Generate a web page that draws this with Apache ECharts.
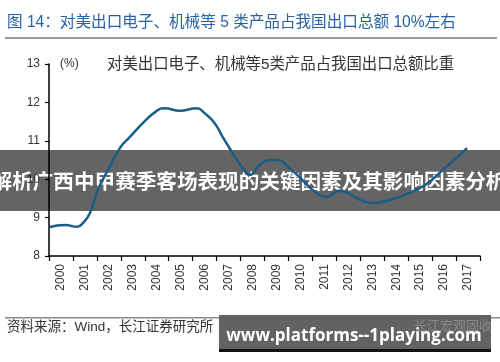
<!DOCTYPE html>
<html><head><meta charset="utf-8">
<script src="https://cdn.jsdelivr.net/npm/echarts@6/dist/echarts.min.js"></script>
<style>html,body{margin:0;padding:0;background:#fff}#c{width:500px;height:362px}</style>
</head><body><div id="c"></div>
<script>
const years = ['2000','2001','2002','2003','2004','2005','2006','2007','2008','2009','2010','2011','2012','2013','2014','2015','2016','2017'];
const yTicks = [8, 9, 10, 11, 12, 13];
const seriesName = '对美出口电子、机械等5类产品占我国出口总额比重';
const pointTimes = [2000.0,2000.67,2001.17,2001.42,2001.71,2002.04,2002.42,2002.96,2003.38,2003.92,2004.5,2004.83,2005.46,2006.17,2006.5,2006.92,2007.25,2007.67,2008.08,2008.38,2008.79,2009.21,2009.54,2010.04,2010.58,2011.17,2011.58,2012.12,2012.6,2013.04,2013.5,2014.0,2014.5,2015.04,2015.58,2016.08,2016.58,2017.04,2017.46];
const shareValues = [8.75,8.81,8.76,8.86,9.12,9.72,10.19,10.81,11.10,11.46,11.78,11.85,11.78,11.85,11.72,11.46,11.10,10.68,10.29,10.11,10.37,10.50,10.50,10.29,9.98,9.64,9.54,9.70,9.60,9.45,9.38,9.42,9.51,9.64,9.80,10.03,10.32,10.57,10.81];
const titleText = '图 14：对美出口电子、机械等 5 类产品占我国出口总额 10%左右';
const unitText = '(%)';
const sourceText = '资料来源：Wind，长江证券研究所';
const bannerText = '解析广西中甲赛季客场表现的关键因素及其影响因素分析';
const watermarkText = 'www.platforms--1playing.com';
const logoText = '长江宏观固收';

const chart = echarts.init(document.getElementById('c'), null, {renderer:'canvas'});
const FONT = '"Liberation Sans", "Noto Sans CJK SC", sans-serif';
chart.setOption({
  animation:false,
  backgroundColor:'#fff',
  grid:{left:49, right:20, top:64, bottom:106},
  xAxis:[{
    type:'category', data:years, boundaryGap:true,
    axisLine:{lineStyle:{color:'#000', width:1.5}},
    axisTick:{show:true, length:5, alignWithLabel:false, lineStyle:{color:'#000', width:1.2}},
    axisLabel:{rotate:90, margin:8, color:'#333', fontSize:12, fontFamily:FONT, interval:0}
  },{
    type:'value', min:2000, max:2018, show:false
  }],
  yAxis:{
    type:'value', min:yTicks[0], max:yTicks[yTicks.length-1], interval:1,
    axisLine:{show:true, lineStyle:{color:'#000', width:1.5}},
    axisTick:{show:true, length:4, lineStyle:{color:'#000', width:1.2}},
    splitLine:{show:false},
    axisLabel:{color:'#333', fontSize:12, fontFamily:FONT, margin:9}
  },
  series:[{
    name:seriesName, type:'line', xAxisIndex:1, smooth:0.5, symbol:'none',
    data:pointTimes.map((t,i)=>[t, shareValues[i]]),
    lineStyle:{color:'#1c5d88', width:2.5}
  }],
  graphic:[
    {type:'text', left:7, top:15, style:{text:titleText, fill:'#2662a5', font:'15.6px "Liberation Sans", "Noto Sans CJK SC", sans-serif'}},
    {type:'rect', shape:{x:5, y:37, width:492, height:2}, style:{fill:'#9a9a9a'}},
    {type:'text', left:60, top:58, style:{text:unitText, fill:'#333', font:'12px "Liberation Sans", sans-serif'}},
    {type:'text', left:107, top:57, style:{text:seriesName, fill:'#333', font:'15.4px "Liberation Sans", "Noto Sans CJK SC", sans-serif'}},
    {type:'rect', shape:{x:5, y:317, width:495, height:1.5}, style:{fill:'#8a8a8a'}},
    {type:'text', left:7, top:321, style:{text:sourceText, fill:'#333', font:'13.5px "Liberation Sans", "Noto Sans CJK SC", sans-serif'}},
    {type:'rect', shape:{x:0, y:150, width:500, height:61}, style:{fill:'rgba(40,40,40,0.72)'}},
    {type:'text', x:249, y:181, style:{text:bannerText, fill:'#fff', align:'center', verticalAlign:'middle', font:'bold 20.6px "Noto Sans CJK SC", sans-serif'}},
    {type:'rect', shape:{x:219, y:315, width:272, height:35}, style:{fill:'#626262'}},
    {type:'rect', shape:{x:219, y:349, width:272, height:3}, style:{fill:'#111'}},
    {type:'text', x:354, y:336, style:{text:watermarkText, fill:'#fff', align:'center', verticalAlign:'middle', font:'bold 17px "Open Sans", "DejaVu Sans", sans-serif'}},
    {type:'text', left:414, top:319, style:{text:logoText, fill:'rgba(170,170,170,0.55)', font:'13px "Noto Sans CJK SC", sans-serif'}}
  ]
});
</script></body></html>
